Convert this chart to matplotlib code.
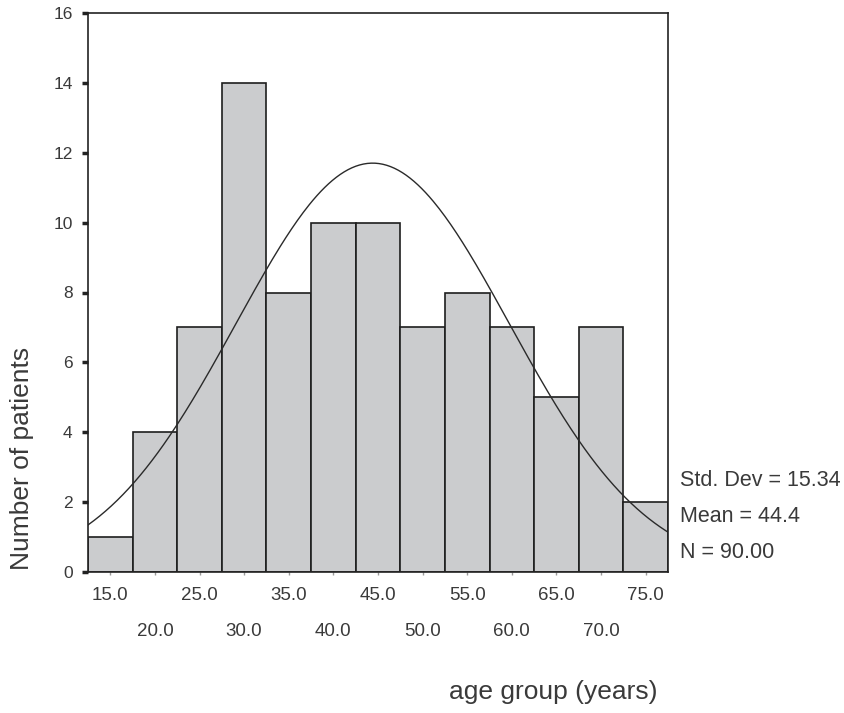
import matplotlib.pyplot as plt
import numpy as np

# age group histogram (bin centres, counts)
centres = [15, 20, 25, 30, 35, 40, 45, 50, 55, 60, 65, 70, 75]
counts = [1, 4, 7, 14, 8, 10, 10, 7, 8, 7, 5, 7, 2]
bin_width = 5.0

std_dev = 15.34
mean = 44.4
n_total = 90

odd_ticks = [15, 25, 35, 45, 55, 65, 75]
even_ticks = [20, 30, 40, 50, 60, 70]

plt.rcParams['font.family'] = ['Liberation Sans', 'DejaVu Sans']
txt = '#3a3a3a'

fig = plt.figure(figsize=(8.44, 7.13), dpi=100)
ax = fig.add_axes([88 / 844, 1 - 572 / 713, 580 / 844, 559 / 713])

ax.bar(centres, counts, width=bin_width, color='#cbccce', edgecolor='#1e1e1e', linewidth=1.2)

# fitted normal curve from the stated mean / std dev
xs = np.linspace(12.5, 77.5, 300)
ys = n_total * bin_width / (std_dev * np.sqrt(2 * np.pi)) * np.exp(-0.5 * ((xs - mean) / std_dev) ** 2)
ax.plot(xs, ys, color='#2a2a2a', lw=1.0)

ax.set_xlim(12.5, 77.5)
ax.set_ylim(0, 16)
ax.set_yticks(range(0, 17, 2))
ax.set_yticklabels([str(v) for v in range(0, 17, 2)], fontsize=12.5, color=txt)
ax.tick_params(axis='y', length=4, width=2.5, color='#222', pad=7)

ax.set_xticks(odd_ticks)
ax.set_xticklabels([f"{v:.1f}" for v in odd_ticks], fontsize=13.5, color=txt)
ax.set_xticks(even_ticks, minor=True)
ax.set_xticklabels([f"{v:.1f}" for v in even_ticks], minor=True, fontsize=13.5, color=txt)
ax.tick_params(axis='x', which='major', length=2.5, width=1, color='#999', pad=8)
ax.tick_params(axis='x', which='minor', length=2.5, width=1, color='#999', pad=34)

for s in ax.spines.values():
    s.set_color('#222')
    s.set_linewidth(1.2)

fig.text(680 / 844, 1 - 481 / 713, f"Std. Dev = {std_dev:.2f}", fontsize=15.5, color=txt, va='center')
fig.text(680 / 844, 1 - 517 / 713, f"Mean = {mean}", fontsize=15.5, color=txt, va='center')
fig.text(680 / 844, 1 - 552 / 713, f"N = {n_total:.2f}", fontsize=15.5, color=txt, va='center')

fig.text(22 / 844, 1 - 458 / 713, "Number of patients", rotation=90, fontsize=19, color=txt,
         ha='center', va='center')
fig.text(553 / 844, 1 - 692 / 713, "age group (years)", fontsize=19, color=txt, ha='center', va='center')

fig.savefig("out.png", dpi=100)
